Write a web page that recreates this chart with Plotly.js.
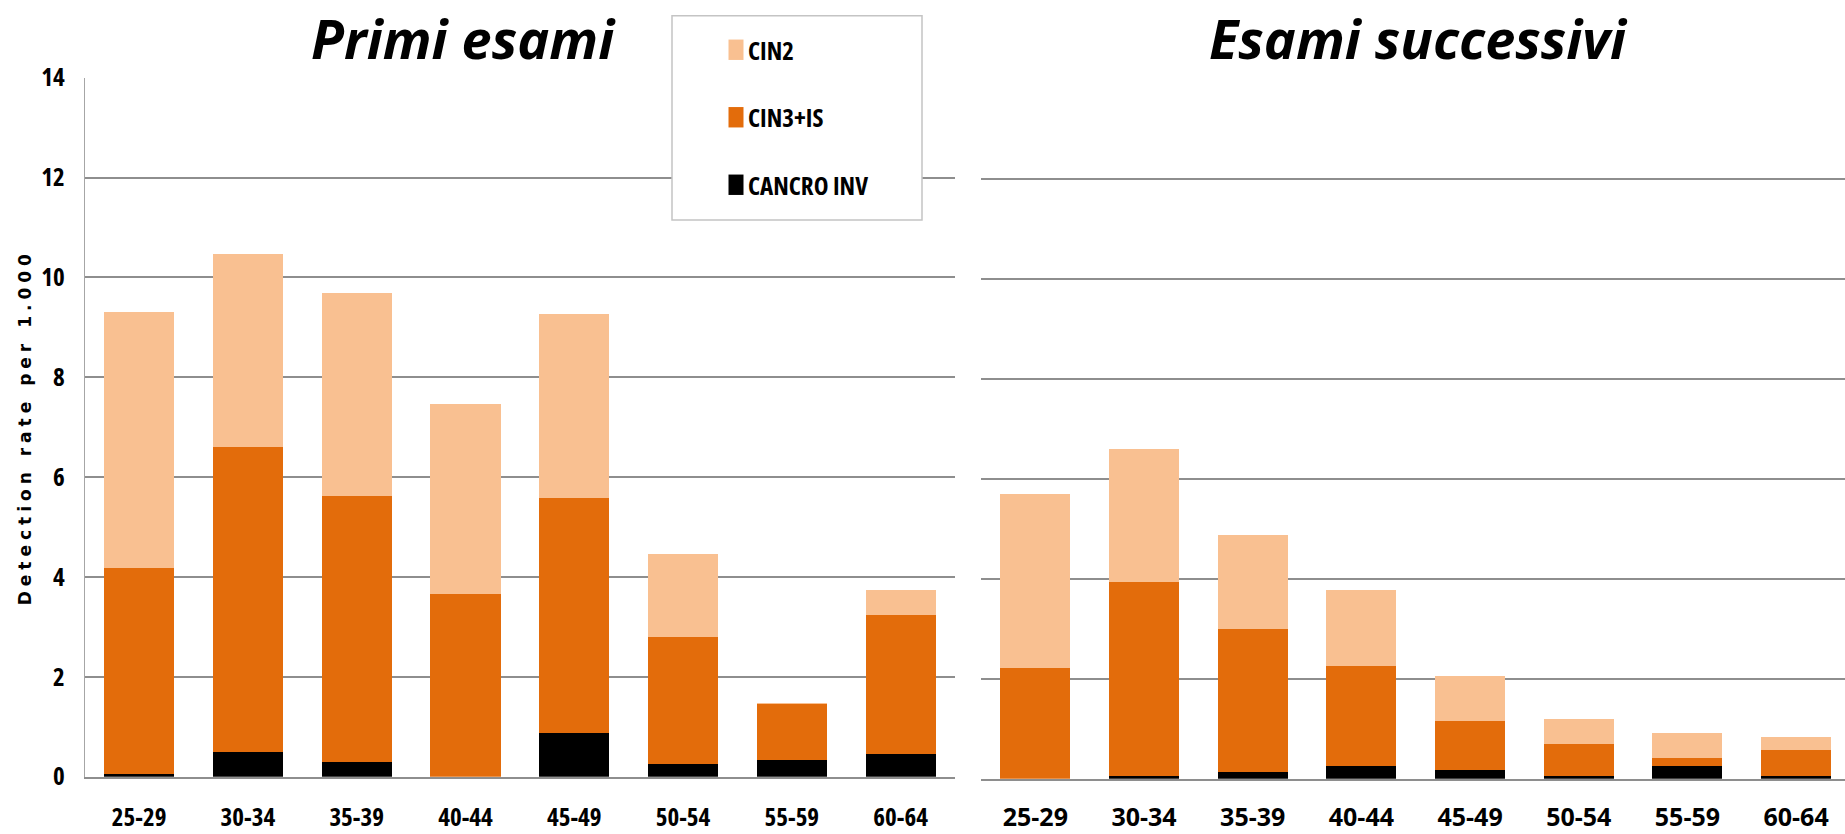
<!DOCTYPE html>
<html>
<head>
<meta charset="utf-8">
<script src="https://cdn.plot.ly/plotly-3.0.1.min.js"></script>
<style>
  html, body { margin: 0; padding: 0; background: #ffffff; }
  #chart { width: 1845px; height: 834px; }
  /* condensed lettering for tick labels and legend */
  .xtick text, .ytick text, .legendtext { font-stretch: 75%; }
  /* wide tracking on the rotated axis title */
  .ytitle { letter-spacing: 5px; }
  /* taller legend swatches, moved next to their labels */
  .legendpoints path { transform: translate(28px, 0px) scale(1.25, 1.7); }
</style>
</head>
<body>
<div id="chart"></div>
<script>
// Age groups shown on both panels
const ageGroups = ['25-29', '30-34', '35-39', '40-44', '45-49', '50-54', '55-59', '60-64'];

// Detection rate per 1.000 - first screening tests
const primiCancro = [0.05, 0.50, 0.29, 0.00, 0.87, 0.25, 0.33, 0.46];
const primiCin3   = [4.13, 6.10, 5.33, 3.66, 4.71, 2.55, 1.12, 2.78];
const primiCin2   = [5.13, 3.86, 4.06, 3.80, 3.69, 1.67, 0.02, 0.50];

// Detection rate per 1.000 - subsequent screening tests
const succCancro = [0.00, 0.05, 0.13, 0.25, 0.17, 0.05, 0.25, 0.05];
const succCin3   = [2.22, 3.89, 2.87, 2.01, 0.98, 0.65, 0.17, 0.52];
const succCin2   = [3.47, 2.65, 1.87, 1.51, 0.90, 0.49, 0.49, 0.26];

const yTicks = [0, 2, 4, 6, 8, 10, 12, 14];

const COL_CIN2 = '#F9C091';
const COL_CIN3 = '#E36C0B';
const COL_INV  = '#000000';

const narrow = 'Open Sans, DejaVu Sans Condensed, sans-serif';
const W = 1845, H = 834;
const px = v => v / W;          // horizontal pixel -> paper
const py = v => (H - v) / H;    // vertical pixel from top -> paper

function series(name, y, color, xa, ya, show, rank) {
  return {
    type: 'bar', name: name, x: ageGroups, y: y,
    xaxis: xa, yaxis: ya,
    marker: { color: color, line: { width: 0 } },
    legendgroup: name, legendrank: rank, showlegend: show,
    hoverinfo: 'skip'
  };
}

const data = [
  series('CANCRO INV', primiCancro, COL_INV,  'x',  'y',  true,  3),
  series('CIN3+IS',    primiCin3,   COL_CIN3, 'x',  'y',  true,  2),
  series('CIN2',       primiCin2,   COL_CIN2, 'x',  'y',  true,  1),
  series('CANCRO INV', succCancro,  COL_INV,  'x2', 'y2', false, 3),
  series('CIN3+IS',    succCin3,    COL_CIN3, 'x2', 'y2', false, 2),
  series('CIN2',       succCin2,    COL_CIN2, 'x2', 'y2', false, 1)
];

const gridCol = '#8e8e8e';
const tickFont = { family: narrow, size: 25, color: '#000000', weight: 'bold' };
const titleFont = { family: 'Open Sans, Lato, sans-serif', size: 54, color: '#000000', weight: 'bold', style: 'italic' };

const xCommon = {
  type: 'category', showgrid: false, zeroline: false,
  showline: true, linecolor: gridCol, linewidth: 2,
  ticks: '', tickfont: tickFont, tickangle: 0,
  fixedrange: true
};
const yCommon = {
  range: [0, 14], tickvals: yTicks, showgrid: true,
  gridcolor: gridCol, gridwidth: 2, zeroline: false,
  ticks: '', fixedrange: true
};

const layout = {
  width: W, height: H,
  margin: { l: 0, r: 0, t: 0, b: 0, autoexpand: false },
  paper_bgcolor: '#ffffff', plot_bgcolor: 'rgba(0,0,0,0)',
  barmode: 'stack', bargap: 0.355,
  showlegend: true,
  xaxis: Object.assign({}, xCommon, {
    domain: [px(84.7), px(955)], range: [-0.5, 7.5], anchor: 'y',
    ticklabelstandoff: 17
  }),
  xaxis2: Object.assign({}, xCommon, {
    domain: [px(981), 1], range: [-0.5, 7.45], anchor: 'y2',
    ticklabelstandoff: 15
  }),
  yaxis: Object.assign({}, yCommon, {
    domain: [py(776.7), py(77.7)], anchor: 'x',
    showline: true, linecolor: '#a6a6a6', linewidth: 1,
    tickfont: tickFont, ticklabelstandoff: 14,
    title: {
      text: 'Detection rate per 1.000',
      font: { family: 'DejaVu Sans, Verdana, sans-serif', size: 17, color: '#000000', weight: 'bold' },
      standoff: 5
    }
  }),
  yaxis2: Object.assign({}, yCommon, {
    domain: [py(778.7), py(79)], anchor: 'x2',
    showline: false, showticklabels: false
  }),
  legend: {
    x: px(708), y: py(27), xanchor: 'left', yanchor: 'top',
    bgcolor: 'rgba(0,0,0,0)', borderwidth: 0,
    traceorder: 'grouped', tracegroupgap: 32,
    font: { family: narrow, size: 25, color: '#000000', weight: 'bold' }
  },
  shapes: [{
    type: 'rect', xref: 'paper', yref: 'paper', layer: 'above',
    x0: px(672), x1: px(922), y0: py(220), y1: py(15.7),
    line: { color: '#c4c4c4', width: 1.5 }, fillcolor: '#ffffff'
  }],
  annotations: [
    {
      text: 'Primi esami', xref: 'paper', yref: 'paper',
      x: px(463), y: 1, xanchor: 'center', yanchor: 'top',
      showarrow: false, borderpad: 0, font: titleFont
    },
    {
      text: 'Esami successivi', xref: 'paper', yref: 'paper',
      x: px(1418), y: 1, xanchor: 'center', yanchor: 'top',
      showarrow: false, borderpad: 0, font: titleFont
    }
  ]
};

Plotly.newPlot('chart', data, layout, { staticPlot: true, displayModeBar: false });
</script>
</body>
</html>
